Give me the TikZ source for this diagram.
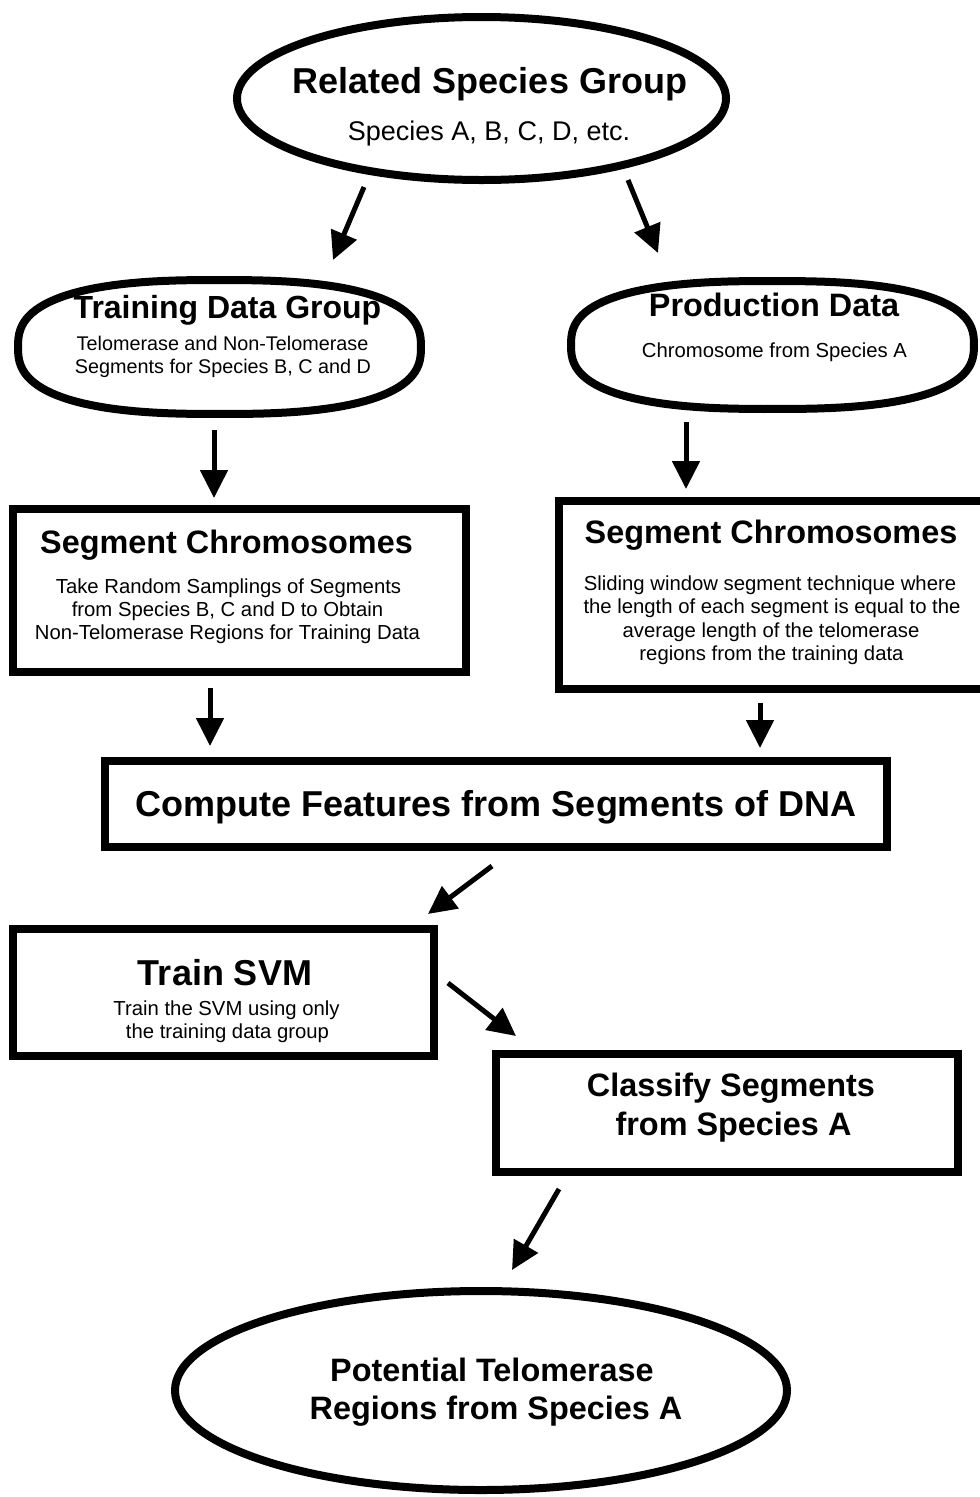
\documentclass[tikz,border=0pt]{standalone}
\usepackage{fontspec}
\setmainfont{Liberation Sans}
\usetikzlibrary{shapes.geometric,arrows.meta}
\begin{document}
\begin{tikzpicture}[x=1pt,y=-1pt,
  ell/.style={draw=black, line width=8pt, ellipse, inner sep=0pt, outer sep=0pt},
  holder/.style={ellipse, inner sep=0pt, outer sep=0pt},
  outline/.style={draw=black, line width=8pt, line join=round},
  box/.style={draw=black, line width=8pt, rectangle, inner sep=0pt, outer sep=0pt},
  ttl/.style={anchor=base, inner sep=0pt, font=\fontsize{32.4}{38}\selectfont\bfseries},
  bigttl/.style={anchor=base, inner sep=0pt, font=\fontsize{36}{42}\selectfont\bfseries},
  sub/.style={anchor=base, inner sep=0pt, font=\fontsize{20.3}{24}\selectfont},
  arr/.style={line width=5pt, -{Triangle[width=27pt,length=28pt]}},
]
\useasboundingbox[fill=white] (0,0) rectangle (980,1497);

% shapes
\node[ell, minimum width=489pt, minimum height=163pt] (rsg) at (481.5,98.5) {};
\node[holder, minimum width=403pt, minimum height=134pt] (tdg) at (219.5,347) {};
\draw[outline] plot[variable=\t, domain=1:358, samples=120]
  ({219.5+201.5*cos(\t)*abs(cos(\t))^(-0.2308)}, {347+67*sin(\t)*abs(sin(\t))^(-0.2308)}) -- cycle;
\node[holder, minimum width=403pt, minimum height=128pt] (pd) at (772.5,345) {};
\draw[outline] plot[variable=\t, domain=1:358, samples=120]
  ({772.5+201.5*cos(\t)*abs(cos(\t))^(-0.2308)}, {345+64*sin(\t)*abs(sin(\t))^(-0.2308)}) -- cycle;
\node[box, minimum width=453pt, minimum height=163pt] (seg1) at (239.5,590.5) {};
\node[box, minimum width=431pt, minimum height=188pt] (seg2) at (774.5,595) {};
\node[box, minimum width=782pt, minimum height=86pt] (comp) at (496,804) {};
\node[box, minimum width=421.5pt, minimum height=127pt] (svm) at (223.25,992.5) {};
\node[box, minimum width=461.5pt, minimum height=118pt] (cls) at (726.75,1113) {};
\node[ell, minimum width=612pt, minimum height=199pt] (fin) at (481,1390.5) {};

% texts
\node[bigttl] (rsgT) at (490,93) {Related Species Group};
\node[sub, font=\fontsize{27}{32}\selectfont] (rsgS) at (489,140) {Species A, B, C, D, etc.};

\node[ttl, font=\fontsize{32}{38}\selectfont\bfseries] (tdgT) at (227.5,318) {Training Data Group};
\node[sub, font=\fontsize{19.8}{24}\selectfont] (tdgS1) at (222.5,350) {Telomerase and Non-Telomerase};
\node[sub, font=\fontsize{19.8}{24}\selectfont] (tdgS2) at (223,373) {Segments for Species B, C and D};

\node[ttl] (pdT) at (774,316) {Production Data};
\node[sub] (pdS) at (774.5,357) {Chromosome from Species A};

\node[ttl] (seg1T) at (226.5,553) {Segment Chromosomes};
\node[sub] (seg1S1) at (228.5,593) {Take Random Samplings of Segments};
\node[sub] (seg1S2) at (227.5,616) {from Species B, C and D to Obtain};
\node[sub] (seg1S3) at (227.5,639) {Non-Telomerase Regions for Training Data};

\node[ttl] (seg2T) at (771,543) {Segment Chromosomes};
\node[sub] (seg2S1) at (770,590) {Sliding window segment technique where};
\node[sub] (seg2S2) at (772,613) {the length of each segment is equal to the};
\node[sub] (seg2S3) at (771,637) {average length of the telomerase};
\node[sub] (seg2S4) at (771.5,660) {regions from the training data};

\node[bigttl] (compT) at (496,816) {Compute Features from Segments of DNA};

\node[bigttl] (svmT) at (225,985) {Train SVM};
\node[sub] (svmS1) at (226.5,1015) {Train the SVM using only};
\node[sub] (svmS2) at (227.5,1038) {the training data group};

\node[ttl] (clsT1) at (731,1096) {Classify Segments};
\node[ttl] (clsT2) at (733.5,1135) {from Species A};

\node[ttl] (finT1) at (492,1381) {Potential Telomerase};
\node[ttl] (finT2) at (496,1419) {Regions from Species A};

% arrow end points
\coordinate (a1s) at (364,187); \coordinate (a1e) at (333,260);
\coordinate (a2s) at (628,180); \coordinate (a2e) at (658,253);
\coordinate (a3s) at (214,430); \coordinate (a3e) at (214,498);
\coordinate (a4s) at (686,422); \coordinate (a4e) at (686,489);
\coordinate (a5s) at (210,688); \coordinate (a5e) at (210,746);
\coordinate (a6s) at (760,703); \coordinate (a6e) at (760,748);
\coordinate (a7s) at (492,866); \coordinate (a7e) at (428,914);
\coordinate (a8s) at (448,983); \coordinate (a8e) at (516,1036);
\coordinate (a9s) at (559,1189); \coordinate (a9e) at (512,1270);

\draw[arr] (a1s) -- (a1e);
\draw[arr] (a2s) -- (a2e);
\draw[arr] (a3s) -- (a3e);
\draw[arr] (a4s) -- (a4e);
\draw[arr] (a5s) -- (a5e);
\draw[arr] (a6s) -- (a6e);
\draw[arr] (a7s) -- (a7e);
\draw[arr] (a8s) -- (a8e);
\draw[arr] (a9s) -- (a9e);
\end{tikzpicture}
\end{document}
